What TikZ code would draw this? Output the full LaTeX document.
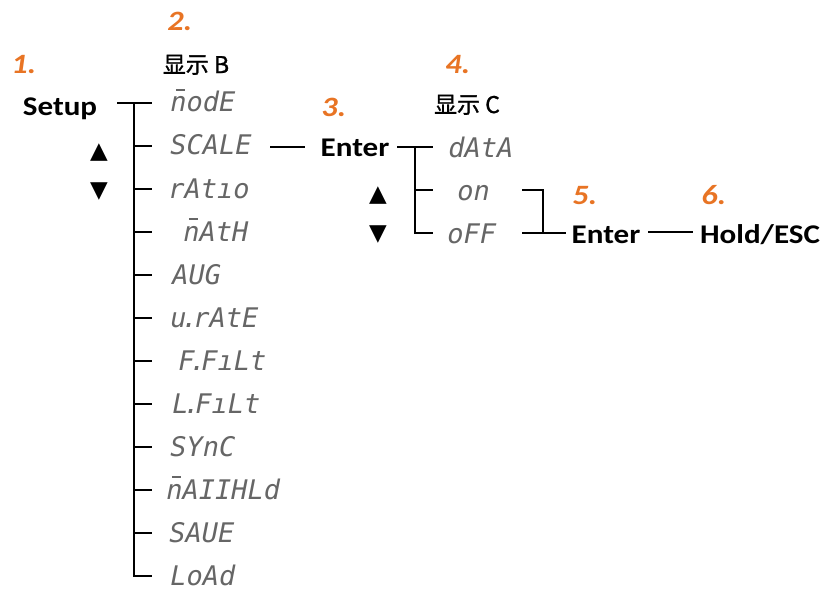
\documentclass[tikz,border=0pt]{standalone}
\usepackage{fontspec}
\setmainfont{Carlito}
\newfontfamily\cjk{Noto Sans CJK SC}[FakeBold=1.2]
\newfontfamily\segfont{DejaVu Sans Mono}
\newfontfamily\symfont{DejaVu Sans}
\newfontfamily\labfont{Carlito}[FakeStretch=1.15]
\definecolor{steporange}{RGB}{232,116,36}
\newcommand\pd{\makebox[.25em]{.}}
\newcommand\mn{\makebox[0pt][l]{\hspace{.2em}\raisebox{.78em}{\rule{.34em}{.08em}}}n}
\tikzset{
	lab/.style={font=\labfont\bfseries\fontsize{13.5}{15}\selectfont, inner sep=0pt, anchor=base},
	num/.style={font=\labfont\bfseries\itshape\fontsize{14}{16}\selectfont, text=steporange, inner sep=0pt, anchor=base west},
	seg/.style={font=\segfont\itshape\fontsize{13.5}{16}\selectfont, text=black!60, inner sep=0pt, anchor=base west},
	hd/.style={font=\cjk\fontsize{11.5}{13}\selectfont, inner sep=0pt, anchor=base},
	sym/.style={font=\symfont\fontsize{11.5}{13}\selectfont, inner sep=0pt},
	tree/.style={line width=1.4pt}
}

\begin{document}
\begin{tikzpicture}[x=0.5pt, y=-0.5pt]
		%%%%% START %%%%%
		\useasboundingbox (0, 0) rectangle (826, 589);
		
		% step numbers
		\node[num] (n1) at (11, 73) {1.};
		\node[num] (n2) at (167, 31) {2.};
		\node[num] (n3) at (321, 116) {3.};
		\node[num] (n4) at (445, 74) {4.};
		\node[num] (n5) at (572, 204) {5.};
		\node[num] (n6) at (701, 204) {6.};
		
		% headers
		\node[hd] (hb) at (196, 73) {显示 B};
		\node[hd] (hc) at (467, 113) {显示 C};
		
		% keys
		\node[lab] (setup) at (60, 115) {Setup};
		\node[lab] (entera) at (355, 156) {Enter};
		\node[lab] (enterb) at (606, 243) {Enter};
		\node[lab] (hold) at (760, 243) {Hold/ESC};
		
		\node[sym] (upa) at (99, 153) {▲};
		\node[sym] (dna) at (99, 192) {▼};
		\node[sym] (upb) at (378, 196) {▲};
		\node[sym] (dnb) at (378, 235) {▼};
		
		% display B menu
		\foreach \y/\x/\t [count=\i] in {103/170/{\mn odE}, 146/170/SCALE, 189/168/rAtıo, 232/183/{\mn AtH}, 275/172/AUG, 318/170/{u\pd rAtE}, 361/178/{F\pd FıLt}, 404/172/{L\pd FıLt}, 447/170/SYnC, 490/166/{\mn AIIHLd}, 533/169/SAUE, 576/170/LoAd} {
			\node[seg] (b\i) at ({\x}, {\y+9}) {\t};
			\coordinate (j\i) at (152, \y);
		}
		\coordinate (sb) at (134, 103);
		\coordinate (sx) at (117, 103);
		\draw[tree] (sx) -- (j1);
		\draw[tree] (sb) |- (j12);
		\foreach \i in {2,...,11}
			\draw[tree] (j\i -| sb) -- (j\i);
		
		% display C menu
		\node[seg] (c1) at (448, 157) {dAtA};
		\node[seg] (c2) at (457, 200) {on};
		\node[seg] (c3) at (447, 243) {oFF};
		\coordinate (ca) at (270, 147);
		\coordinate (cb) at (305, 147);
		\draw[tree] (ca) -- (cb);
		
		\coordinate (cs) at (415, 147);
		\coordinate (k1) at (397, 147);
		\coordinate (k2) at (433, 147);
		\coordinate (k3) at (433, 190);
		\coordinate (k4) at (433, 233);
		\draw[tree] (k1) -- (k2);
		\draw[tree] (cs) |- (k4);
		\draw[tree] (k3 -| cs) -- (k3);
		
		% on/oFF to Enter
		\coordinate (r1) at (522, 190);
		\coordinate (r2) at (522, 233);
		\coordinate (rv) at (543, 190);
		\coordinate (re) at (566, 233);
		\draw[tree] (r1) -- (rv) -- (rv |- re);
		\draw[tree] (r2) -- (re);
		
		\coordinate (h1) at (648, 232);
		\coordinate (h2) at (693, 232);
		\draw[tree] (h1) -- (h2);
		
		%%%%% END %%%%%
	\end{tikzpicture}
\end{document}
